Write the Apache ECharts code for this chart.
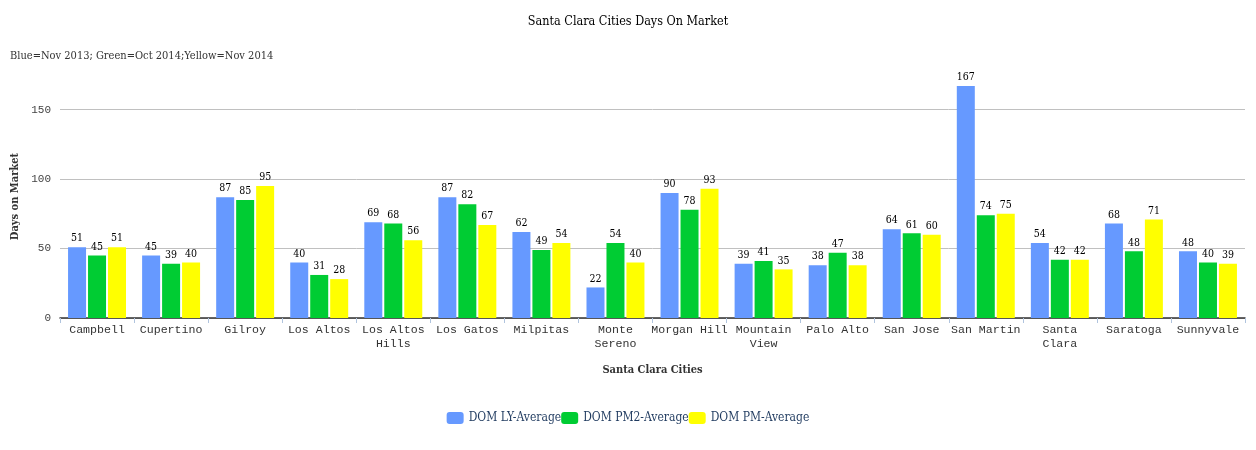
<!DOCTYPE html>
<html>
<head>
<meta charset="utf-8">
<script src="https://cdn.jsdelivr.net/npm/echarts@6/dist/echarts.min.js"></script>
<style>
html, body { margin: 0; padding: 0; background: #fff; }
#report { width: 1256px; height: 450px; }
</style>
</head>
<body>
<div id="report"></div>
<script>
var cities = ['Campbell', 'Cupertino', 'Gilroy', 'Los Altos', 'Los Altos\nHills', 'Los Gatos',
	'Milpitas', 'Monte\nSereno', 'Morgan Hill', 'Mountain\nView', 'Palo Alto', 'San Jose',
	'San Martin', 'Santa\nClara', 'Saratoga', 'Sunnyvale'];
var domLY = [51, 45, 87, 40, 69, 87, 62, 22, 90, 39, 38, 64, 167, 54, 68, 48];
var domPM2 = [45, 39, 85, 31, 68, 82, 49, 54, 78, 41, 47, 61, 74, 42, 48, 40];
var domPM = [51, 40, 95, 28, 56, 67, 54, 40, 93, 35, 38, 60, 75, 42, 71, 39];

var serif = '"DejaVu Serif Condensed", "DejaVu Serif", serif';
var mono = '"Liberation Mono", "DejaVu Sans Mono", monospace';

var myChart = echarts.init(document.getElementById('report'));

function barSeries(name, values, color) {
	return {
		name : name,
		type : 'bar',
		data : values,
		barWidth : 18,
		barGap : '11%',
		itemStyle : { color : color },
		label : {
			show : true,
			position : 'top',
			distance : 3,
			color : '#000',
			fontFamily : serif,
			fontSize : 10.5
		}
	};
}

var option = {
	animation : false,
	title : [ {
		text : 'Santa Clara Cities Days On Market',
		left : 'center',
		top : 10,
		textStyle : { fontFamily : serif, fontSize : 12.5, fontWeight : 'normal', color : '#000' }
	}, {
		text : 'Blue=Nov 2013; Green=Oct 2014;Yellow=Nov 2014',
		left : 5,
		top : 46,
		textStyle : { fontFamily : serif, fontSize : 11, fontWeight : 'normal', color : '#333' }
	} ],
	legend : {
		bottom : 21,
		left : 'center',
		itemWidth : 17,
		itemHeight : 12,
		itemGap : 0,
		icon : 'roundRect',
		textStyle : { fontFamily : serif, fontSize : 12, color : '#1f3a5f' }
	},
	grid : {
		left : 60,
		right : 11,
		top : 75,
		bottom : 132,
		containLabel : false
	},
	xAxis : {
		type : 'category',
		data : cities,
		name : 'Santa Clara Cities',
		nameLocation : 'middle',
		nameGap : 47,
		nameTextStyle : { fontFamily : serif, fontSize : 11, fontWeight : 'bold', color : '#333' },
		axisLine : { lineStyle : { color : '#333', width : 1.5 } },
		axisTick : { show : true, length : 5, lineStyle : { color : '#b0c4de' } },
		axisLabel : { fontFamily : mono, fontSize : 11.6, color : '#333', margin : 5, lineHeight : 14, interval : 0 }
	},
	yAxis : {
		type : 'value',
		min : 0,
		max : 175,
		interval : 50,
		name : 'Days on Market',
		nameLocation : 'middle',
		nameGap : 31,
		nameTextStyle : { fontFamily : serif, fontSize : 11, fontWeight : 'bold', color : '#333' },
		axisLine : { show : false },
		axisTick : { show : false },
		axisLabel : { fontFamily : mono, fontSize : 11, color : '#444', margin : 9, showMaxLabel : false },
		splitLine : { showMaxLine : false, lineStyle : { color : '#c0c0c0', width : 1 } }
	},
	series : [
		barSeries('DOM LY-Average', domLY, '#6699ff'),
		barSeries('DOM PM2-Average', domPM2, '#00cc33'),
		barSeries('DOM PM-Average', domPM, '#ffff00')
	]
};
myChart.setOption(option);
</script>
</body>
</html>
